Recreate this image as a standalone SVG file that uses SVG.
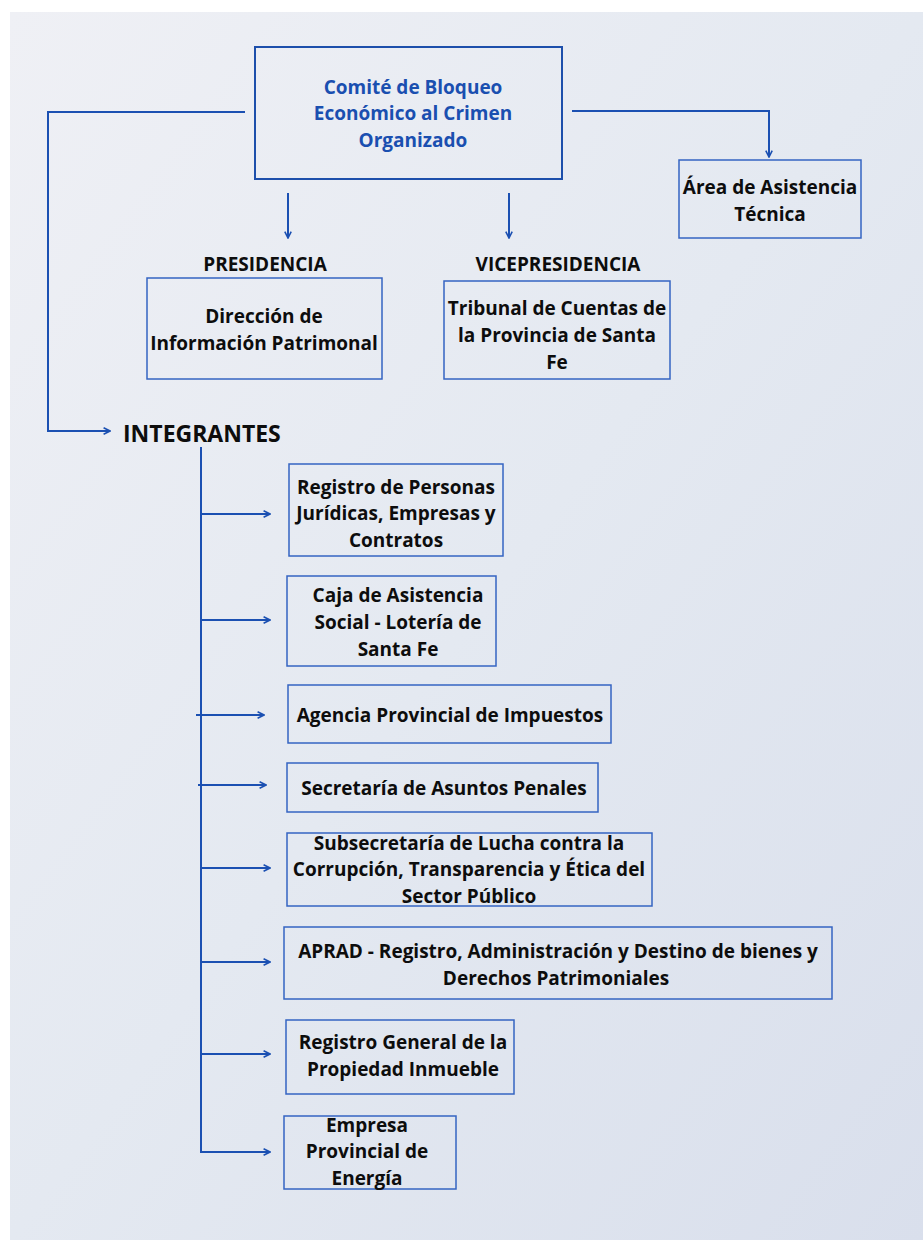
<svg xmlns="http://www.w3.org/2000/svg" width="923" height="1240" viewBox="0 0 923 1240">
<defs>
<linearGradient id="bg" x1="0" y1="0" x2="1" y2="1">
<stop offset="0" stop-color="#eff0f5"/>
<stop offset="0.5" stop-color="#e4e9f1"/>
<stop offset="1" stop-color="#d9dfec"/>
</linearGradient>
<marker id="ah" viewBox="0 0 10 10" refX="9" refY="5" markerWidth="8" markerHeight="8" markerUnits="userSpaceOnUse" orient="auto">
<path d="M1,1 L9,5 L1,9" fill="none" stroke="#1b50b2" stroke-width="2"/>
</marker>
<style>
.bx{fill:none;stroke:#3564c2;stroke-width:1.5}
.main{fill:none;stroke:#1d4fab;stroke-width:2}
.t{font-family:"Open Sans","DejaVu Sans",sans-serif;font-weight:bold;font-size:19px;fill:#0d0d0d;text-anchor:middle;transform:translateY(1px)}
.tb{font-family:"Open Sans","DejaVu Sans",sans-serif;font-weight:bold;font-size:19px;fill:#1a4fb0;text-anchor:middle;transform:translateY(1px)}
.c{fill:none;stroke:#1b50b2;stroke-width:2}
</style>
</defs>
<rect x="0" y="0" width="923" height="1240" fill="#ffffff"/>
<rect x="10" y="12" width="913" height="1228" fill="url(#bg)"/>

<g id="connectors">
<path class="c" d="M245,112 H48 V431 H110" marker-end="url(#ah)"/>
<path class="c" d="M572,111 H769 V157" marker-end="url(#ah)"/>
<path class="c" d="M288,193 V238" marker-end="url(#ah)"/>
<path class="c" d="M509,193 V238" marker-end="url(#ah)"/>
<path class="c" d="M201,447 V1153"/>
<path class="c" d="M201,514 H270" marker-end="url(#ah)"/>
<path class="c" d="M201,620 H270" marker-end="url(#ah)"/>
<path class="c" d="M196,715 H264" marker-end="url(#ah)"/>
<path class="c" d="M198,785 H266" marker-end="url(#ah)"/>
<path class="c" d="M201,868 H270" marker-end="url(#ah)"/>
<path class="c" d="M201,962 H270" marker-end="url(#ah)"/>
<path class="c" d="M201,1054 H270" marker-end="url(#ah)"/>
<path class="c" d="M201,1152 H270" marker-end="url(#ah)"/>
</g>

<g id="comite">
<rect class="main" x="255" y="47" width="307" height="132"/>
<text class="tb" x="413" y="93">Comité de Bloqueo</text>
<text class="tb" x="413" y="119">Económico al Crimen</text>
<text class="tb" x="413" y="146">Organizado</text>
</g>

<g id="area">
<rect class="bx" x="679" y="160" width="182" height="78"/>
<text class="t" x="770" y="193">Área de Asistencia</text>
<text class="t" x="770" y="220">Técnica</text>
</g>

<g id="presidencia">
<text class="t" x="265" y="270">PRESIDENCIA</text>
<rect class="bx" x="147" y="278" width="235" height="101"/>
<text class="t" x="264" y="322">Dirección de</text>
<text class="t" x="264" y="349">Información Patrimonal</text>
</g>

<g id="vicepresidencia">
<text class="t" x="558" y="270">VICEPRESIDENCIA</text>
<rect class="bx" x="444" y="281" width="226" height="98"/>
<text class="t" x="557" y="314">Tribunal de Cuentas de</text>
<text class="t" x="557" y="341">la Provincia de Santa</text>
<text class="t" x="557" y="368">Fe</text>
</g>

<g id="integrantes">
<text class="t" x="123" y="441" style="text-anchor:start;font-size:23px">INTEGRANTES</text>
</g>

<g id="registro-personas">
<rect class="bx" x="289" y="464" width="214" height="92"/>
<text class="t" x="396" y="493">Registro de Personas</text>
<text class="t" x="396" y="519">Jurídicas, Empresas y</text>
<text class="t" x="396" y="546">Contratos</text>
</g>

<g id="caja">
<rect class="bx" x="287" y="576" width="209" height="90"/>
<text class="t" x="398" y="601">Caja de Asistencia</text>
<text class="t" x="398" y="628">Social - Lotería de</text>
<text class="t" x="398" y="655">Santa Fe</text>
</g>

<g id="agencia">
<rect class="bx" x="288" y="685" width="323" height="58"/>
<text class="t" x="450" y="721">Agencia Provincial de Impuestos</text>
</g>

<g id="secretaria">
<rect class="bx" x="287" y="763" width="311" height="49"/>
<text class="t" x="444" y="794">Secretaría de Asuntos Penales</text>
</g>

<g id="subsecretaria">
<rect class="bx" x="287" y="833" width="365" height="73"/>
<text class="t" x="469" y="849">Subsecretaría de Lucha contra la</text>
<text class="t" x="469" y="875">Corrupción, Transparencia y Ética del</text>
<text class="t" x="469" y="902">Sector Público</text>
</g>

<g id="aprad">
<rect class="bx" x="284" y="927" width="548" height="72"/>
<text class="t" x="558" y="957">APRAD - Registro, Administración y Destino de bienes y</text>
<text class="t" x="556" y="984">Derechos Patrimoniales</text>
</g>

<g id="registro-general">
<rect class="bx" x="286" y="1020" width="228" height="74"/>
<text class="t" x="403" y="1048">Registro General de la</text>
<text class="t" x="403" y="1075">Propiedad Inmueble</text>
</g>

<g id="epe">
<rect class="bx" x="284" y="1116" width="172" height="73"/>
<text class="t" x="367" y="1131">Empresa</text>
<text class="t" x="367" y="1157">Provincial de</text>
<text class="t" x="367" y="1184">Energía</text>
</g>
</svg>
